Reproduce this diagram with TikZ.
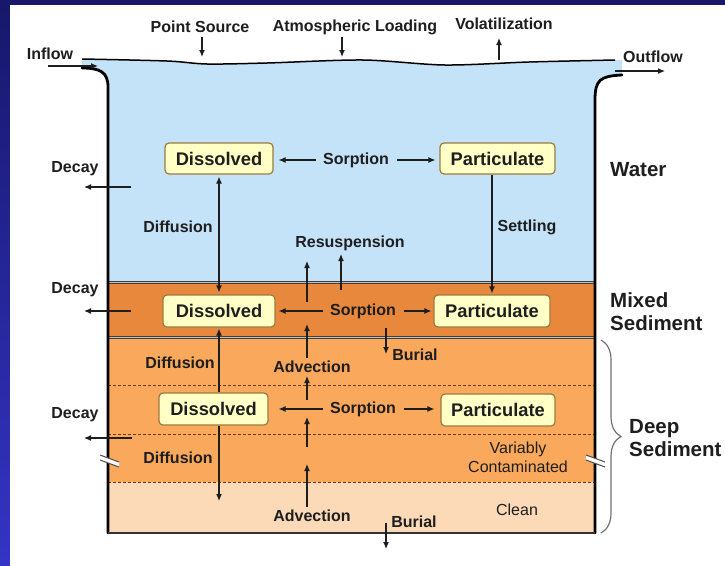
\documentclass[tikz,border=0pt]{standalone}
\usepackage{fontspec}
\setmainfont{Liberation Sans}
\usetikzlibrary{arrows.meta,decorations.pathreplacing}
\definecolor{navy}{HTML}{17176B}
\definecolor{bluebot}{HTML}{3434C6}
\definecolor{water}{HTML}{C5E3F8}
\definecolor{mixed}{HTML}{E8883C}
\definecolor{deep}{HTML}{F9A85C}
\definecolor{clean}{HTML}{FCDAB8}
\definecolor{boxfill}{HTML}{FFFFC6}
\definecolor{boxedge}{HTML}{9A7B3E}
\definecolor{txt}{HTML}{1E1E1E}
\definecolor{dashc}{HTML}{6A3A10}
\begin{document}
\begin{tikzpicture}[x=1pt,y=-1pt,
  lbl/.style={font=\fontsize{16}{18}\selectfont\bfseries, text=txt, inner sep=0pt},
  big/.style={font=\fontsize{20.5}{23}\selectfont\bfseries, text=txt, inner sep=0pt, align=left},
  plain/.style={font=\fontsize{16}{19}\selectfont, text=txt, inner sep=0pt, align=center},
  box/.style={draw=boxedge, fill=boxfill, rounded corners=4pt, line width=1.2pt,
    font=\fontsize{18.3}{20}\selectfont\bfseries, text=txt, inner sep=0pt},
  arr/.style={draw=txt, line width=1.1pt, -{Latex[length=7pt,width=6pt]}},
  darr/.style={draw=txt, line width=1.1pt, {Latex[length=7pt,width=6pt]}-{Latex[length=7pt,width=6pt]}},
  wall/.style={draw=black, line width=2.8pt, line cap=round},
  layerline/.style={draw=dashc, line width=1pt, dash pattern=on 3pt off 2pt},
]
\useasboundingbox (0,0) rectangle (725,565);
% background
\shade[top color=navy, bottom color=bluebot] (0,0) rectangle (725,565);
\fill[white] (10,5) rectangle (727,568);

% water body
\fill[water] plot[smooth] coordinates {(82,59) (167,61) (207,64) (267,63) (363,60) (445,65) (529,62) (622,60)}
  -- (622,75) .. controls (600,76) and (595,80) .. (595,100) -- (595,282) -- (108,282)
  -- (108,87) .. controls (108,72) and (100,68) .. (82,68) -- cycle;
\fill[mixed] (108,282) rectangle (595,337);
\fill[deep] (108,337) rectangle (595,482);
\fill[clean] (108,482) rectangle (595,533);

\draw[layerline] (108,385) -- (595,385);
\draw[layerline] (108,434) -- (595,434);
\draw[layerline] (108,482) -- (595,482);

\draw[draw=black!75, line width=3pt] (108,282) -- (595,282);
\draw[draw=black!25, line width=0.8pt] (108,282) -- (595,282);
\draw[draw=black!75, line width=3pt] (108,337) -- (595,337);
\draw[draw=black!25, line width=0.8pt] (108,337) -- (595,337);

\draw[line width=1.5pt] plot[smooth] coordinates {(82,59) (167,61) (207,64) (267,63) (363,60) (445,65) (529,62) (615,60)};
\draw[wall] (82,68) .. controls (100,68) and (108,72) .. (108,87) -- (108,533);
\draw[wall] (595,533) -- (595,100) .. controls (595,80) and (600,76) .. (622,75);
\draw[draw=black!80, line width=2pt] (108,533) -- (595,533);

% break marks
\fill[white] (100,455) -- (119,462) -- (119,467) -- (100,460) -- cycle;
\draw[line width=1pt, black!70] (100,455) -- (119,462) (100,460) -- (119,467);
\fill[white] (586,455) -- (605,462) -- (605,467) -- (586,460) -- cycle;
\draw[line width=1pt, black!70] (586,455) -- (605,462) (586,460) -- (605,467);

% brace
\draw[decorate, decoration={brace, amplitude=20pt, aspect=0.5}, draw=black!55, line width=1.2pt] (601,340) -- (601,533);

% right labels
\node[big, anchor=west] (lwater) at (610,170) {Water};
\node[big, anchor=west] (lmixed) at (610,311.5) {Mixed\\Sediment};
\node[big, anchor=west] (ldeep) at (629,438.5) {Deep\\Sediment};
\node[plain] (lvar) at (518,457.5) {Variably\\Contaminated};
\node[plain] (lclean) at (517,510) {Clean};

% boxes
\node[box, minimum width=108pt, minimum height=31pt] (dw) at (219,158.5) {Dissolved};
\node[box, minimum width=115pt, minimum height=31pt] (pw) at (497.5,158.5) {Particulate};
\node[box, minimum width=112pt, minimum height=32pt] (dm) at (219,311) {Dissolved};
\node[box, minimum width=116pt, minimum height=32pt] (pm) at (492,311) {Particulate};
\node[box, minimum width=109pt, minimum height=32pt] (dd) at (213.5,409) {Dissolved};
\node[box, minimum width=114pt, minimum height=32pt] (pd) at (498,410) {Particulate};

% labels
\node[lbl] (inflow) at (50,54) {Inflow};
\node[lbl] (ps) at (200,27) {Point Source};
\node[lbl] (atm) at (355,27) {Atmospheric Loading};
\node[lbl] (vol) at (504,24) {Volatilization};
\node[lbl] (outflow) at (653,57) {Outflow};
\node[lbl] (dec1) at (75,169) {Decay};
\node[lbl] (dec2) at (75,290) {Decay};
\node[lbl] (dec3) at (75,415) {Decay};
\node[lbl] (dif1) at (178,227) {Diffusion};
\node[lbl] (dif2) at (180,363) {Diffusion};
\node[lbl] (dif3) at (178,458) {Diffusion};
\node[lbl] (sw) at (356,160) {Sorption};
\node[lbl] (sm) at (363,311) {Sorption};
\node[lbl] (sd) at (363,409) {Sorption};
\node[lbl] (settle) at (527,227) {Settling};
\node[lbl] (resus) at (350,243) {Resuspension};
\node[lbl] (adv1) at (312,367) {Advection};
\node[lbl] (adv2) at (312,516) {Advection};
\node[lbl] (bur1) at (415,355) {Burial};
\node[lbl] (bur2) at (414,522) {Burial};

% coordinates for free ends
\coordinate (inA) at (48,66);   \coordinate (inB) at (98,66);
\coordinate (outA) at (615,71); \coordinate (outB) at (665,71);
\coordinate (psA) at (202,37);  \coordinate (psB) at (202,57);
\coordinate (atA) at (342,37);  \coordinate (atB) at (342,57);
\coordinate (voA) at (499,60);  \coordinate (voB) at (499,38);
\coordinate (d1A) at (131,187); \coordinate (d1B) at (84,187);
\coordinate (d2A) at (131,311); \coordinate (d2B) at (84,311);
\coordinate (d3A) at (132,438); \coordinate (d3B) at (84,438);
\coordinate (r1A) at (307,302); \coordinate (r1B) at (307,261);
\coordinate (r2A) at (341,290); \coordinate (r2B) at (341,254);
\coordinate (a1A) at (307,358); \coordinate (a1B) at (307,324);
\coordinate (a2A) at (307,400); \coordinate (a2B) at (307,376);
\coordinate (a3A) at (307,447); \coordinate (a3B) at (307,417);
\coordinate (a4A) at (307,507); \coordinate (a4B) at (307,464);
\coordinate (b1A) at (386,328); \coordinate (b1B) at (386,354);
\coordinate (b2A) at (386,523); \coordinate (b2B) at (386,549);
\coordinate (ddEnd) at (219,501);

% connectors
\draw[arr] (inA) -- (inB);
\draw[arr] (outA) -- (outB);
\draw[arr] (psA) -- (psB);
\draw[arr] (atA) -- (atB);
\draw[arr] (voA) -- (voB);
\draw[arr] (d1A) -- (d1B);
\draw[arr] (d2A) -- (d2B);
\draw[arr] (d3A) -- (d3B);

\draw[arr, shorten <=7pt, shorten >=5pt] (sw.west) -- (dw.east |- sw.west);
\draw[arr, shorten <=8pt, shorten >=4pt] (sw.east) -- (pw.west |- sw.east);
\draw[arr, shorten <=7pt, shorten >=3pt] (sm.west) -- (dm.east |- sm.west);
\draw[arr, shorten <=8pt, shorten >=2pt] (sm.east) -- (pm.west |- sm.east);
\draw[arr, shorten <=7pt, shorten >=10pt] (sd.west) -- (dd.east |- sd.west);
\draw[arr, shorten <=8pt, shorten >=6pt] (sd.east) -- (pd.west |- sd.east);

\draw[darr, shorten <=2pt, shorten >=2pt] (dw.south) -- (dm.north);
\draw[arr, shorten >=1pt] (dd.north -| dm.south) -- (dm.south);
\draw[arr] (dd.south -| dm.south) -- (ddEnd);
\draw[arr, shorten >=1pt] (pw.south -| pm.north) -- (pm.north);

\draw[arr] (r1A) -- (r1B);
\draw[arr] (r2A) -- (r2B);
\draw[arr] (a1A) -- (a1B);
\draw[arr] (a2A) -- (a2B);
\draw[arr] (a3A) -- (a3B);
\draw[arr] (a4A) -- (a4B);
\draw[arr] (b1A) -- (b1B);
\draw[arr] (b2A) -- (b2B);
\end{tikzpicture}
\end{document}
